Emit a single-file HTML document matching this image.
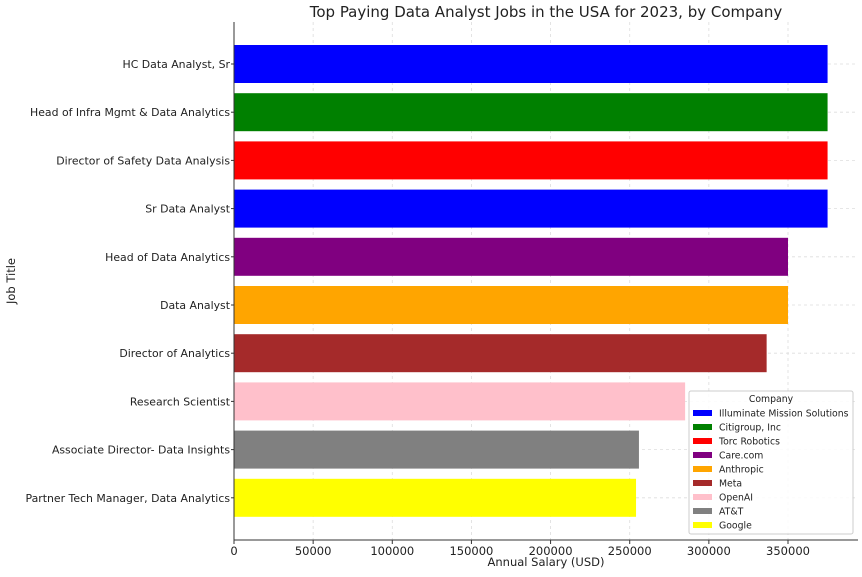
<!DOCTYPE html>
<html><head><meta charset="utf-8"><style>
body{margin:0;background:#fff;}
svg text{font-family:"DejaVu Sans","Liberation Sans",sans-serif;}
</style></head><body>
<svg id="chart" width="862" height="572" xmlns="http://www.w3.org/2000/svg"></svg>
<script>
const jobTitles=["HC Data Analyst, Sr","Head of Infra Mgmt & Data Analytics","Director of Safety Data Analysis","Sr Data Analyst","Head of Data Analytics","Data Analyst","Director of Analytics","Research Scientist","Associate Director- Data Insights","Partner Tech Manager, Data Analytics"];
const salaries=[375000,375000,375000,375000,350000,350000,336500,285000,255829,254000];
const barColors=["blue","green","red","blue","purple","orange","brown","pink","gray","yellow"];
const companies=["Illuminate Mission Solutions","Citigroup, Inc","Torc Robotics","Care.com","Anthropic","Meta","OpenAI","AT&T","Google"];
const companyColors=["blue","green","red","purple","orange","brown","pink","gray","yellow"];
const xTicks=[0,50000,100000,150000,200000,250000,300000,350000];

const svg=document.getElementById('chart');
const NS='http://www.w3.org/2000/svg';
const L=234,R=858,T=22,B=540;
const xs=v=>L+v*(554/350000);
const rowH=48.2, y0=64;
const ys=i=>y0+i*rowH;
function mk(tag,attrs,text){const e=document.createElementNS(NS,tag);for(const k in attrs)e.setAttribute(k,attrs[k]);if(text!==undefined)e.textContent=text;svg.appendChild(e);return e;}

xTicks.forEach(t=>{const g=mk('line',{x1:xs(t),x2:xs(t),y1:T,y2:B,stroke:'#ddd','stroke-dasharray':'3,3','stroke-width':0.8});

});
jobTitles.forEach((j,i)=>{const g=mk('line',{x1:L,x2:R,y1:ys(i),y2:ys(i),stroke:'#ddd','stroke-dasharray':'3,3','stroke-width':0.8});

});

jobTitles.forEach((j,i)=>{
const b=mk('rect',{x:L,y:ys(i)-19,width:xs(salaries[i])-L,height:38,fill:barColors[i]});


const t=mk('text',{x:L-4,y:ys(i)+4,'text-anchor':'end','font-size':10.9,fill:'#222'},j);


mk('line',{x1:L-3,x2:L,y1:ys(i),y2:ys(i),stroke:'#333'});
});

mk('line',{x1:L,x2:L,y1:T,y2:B,stroke:'#333','stroke-width':1});
mk('line',{x1:L,x2:R,y1:B,y2:B,stroke:'#333','stroke-width':1});
xTicks.forEach(t=>{mk('line',{x1:xs(t),x2:xs(t),y1:B,y2:B+4,stroke:'#333'});
const tl=mk('text',{x:xs(t),y:B+15,'text-anchor':'middle','font-size':11.5,fill:'#222'},String(t));

});

const title=mk('text',{x:546,y:17,'text-anchor':'middle','font-size':15,fill:'#222'},'Top Paying Data Analyst Jobs in the USA for 2023, by Company');


const xt=mk('text',{x:546,y:566,'text-anchor':'middle','font-size':11.5,fill:'#222'},'Annual Salary (USD)');


const yt=mk('text',{x:15,y:281,'text-anchor':'middle','font-size':11.5,fill:'#222',transform:'rotate(-90 15 281)'},'Job Title');



const lg=mk('rect',{x:689,y:391,width:164,height:143,fill:'#fff','fill-opacity':0.85,stroke:'#ccc',rx:2});


mk('text',{x:771,y:402,'text-anchor':'middle','font-size':9.3,fill:'#222'},'Company');
companies.forEach((c,i)=>{const y=413+i*14;
const sw=mk('rect',{x:693,y:y-3,width:19,height:6,fill:companyColors[i]});


const lt=mk('text',{x:719,y:y+3.5,'font-size':9.3,fill:'#222'},c);

});
</script>
</body></html>
